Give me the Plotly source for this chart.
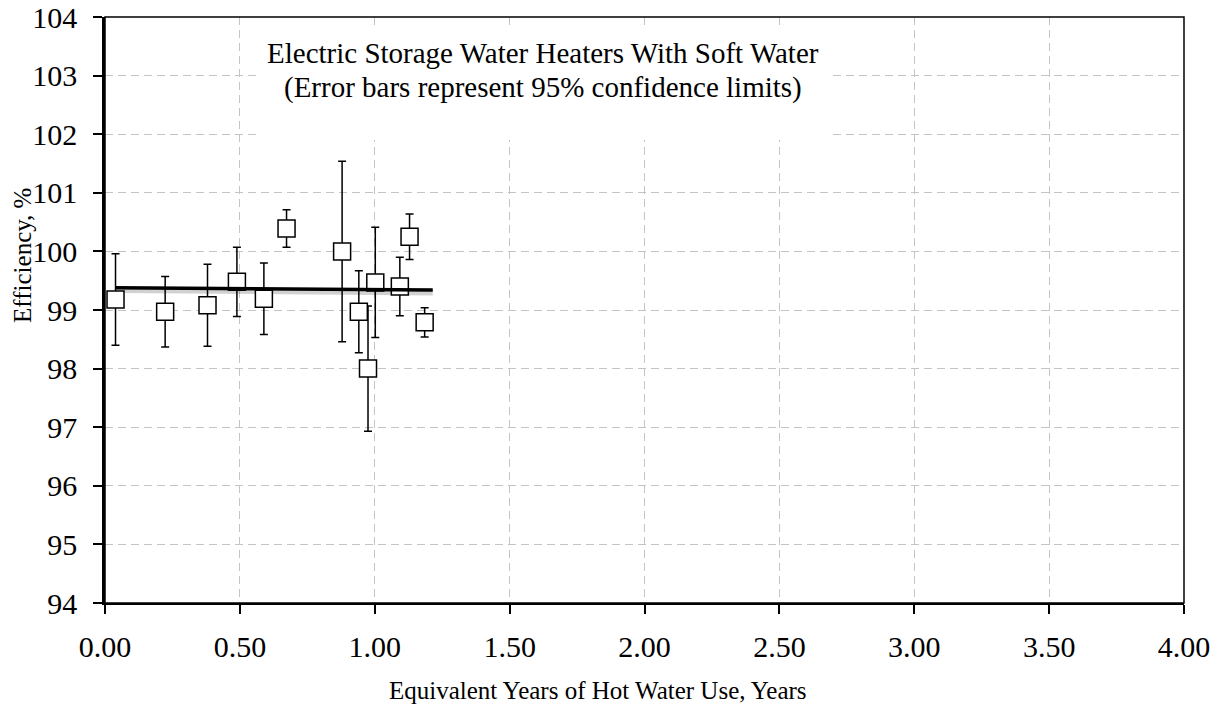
import plotly.graph_objects as go

# ---- data ----
years = [0.039, 0.223, 0.380, 0.489, 0.589, 0.673, 0.879, 0.941, 0.975, 1.002, 1.093, 1.129, 1.185]
efficiency = [99.18, 98.97, 99.08, 99.48, 99.19, 100.39, 100.00, 98.97, 98.00, 99.47, 99.40, 100.25, 98.79]
ci95 = [0.78, 0.60, 0.70, 0.59, 0.61, 0.32, 1.54, 0.70, 1.07, 0.94, 0.50, 0.39, 0.25]

fit_x = [0.04, 1.215]
fit_y = [99.38, 99.34]

x_ticks = [0.0, 0.5, 1.0, 1.5, 2.0, 2.5, 3.0, 3.5, 4.0]
x_tick_labels = ["0.00", "0.50", "1.00", "1.50", "2.00", "2.50", "3.00", "3.50", "4.00"]
y_ticks = [94, 95, 96, 97, 98, 99, 100, 101, 102, 103, 104]

title_lines = ["Electric Storage Water Heaters With Soft Water",
               "(Error bars represent 95% confidence limits)"]

FONT = "Liberation Serif, Times New Roman, serif"

fig = go.Figure()

# shadow of fit line
fig.add_trace(go.Scatter(
    x=fit_x, y=[v - 0.04 for v in fit_y], mode="lines",
    line=dict(color="rgba(0,0,0,0.18)", width=6),
    hoverinfo="skip", showlegend=False))

fig.add_trace(go.Scatter(
    x=years, y=efficiency, mode="markers",
    marker=dict(symbol="square", size=17, color="white",
                line=dict(color="black", width=1.5)),
    error_y=dict(type="data", array=ci95, visible=True,
                 color="black", thickness=1.5, width=4),
    showlegend=False))

fig.add_trace(go.Scatter(
    x=fit_x, y=fit_y, mode="lines",
    line=dict(color="black", width=3.5),
    showlegend=False))

grid = dict(showgrid=True, gridcolor="#c4c4c4", gridwidth=1, griddash="8px,5px")

fig.update_xaxes(range=[0, 4], tickvals=x_ticks, ticktext=x_tick_labels,
                 showline=True, linecolor="black", linewidth=2,
                 ticks="outside", ticklen=9, tickwidth=1.5, tickcolor="black",
                 ticklabelstandoff=7, ticklabeloverflow="allow",
                 tickfont=dict(family=FONT, size=30, color="black"),
                 automargin=False, zeroline=False, **grid)
fig.update_yaxes(range=[94, 104], tickvals=y_ticks,
                 showline=True, linecolor="black", linewidth=2.5,
                 ticks="outside", ticklen=9, tickwidth=1.5, tickcolor="black",
                 ticklabelstandoff=10, ticklabeloverflow="allow",
                 tickfont=dict(family=FONT, size=30, color="black"),
                 automargin=False, zeroline=False, **grid)

# white box behind the title text (covers gridlines)
fig.add_shape(type="rect", xref="x", yref="y", x0=0.564, x1=2.698, y0=101.9, y1=103.81,
              fillcolor="white", line=dict(width=0), layer="between")
# plot border (top and right)
fig.add_shape(type="rect", xref="paper", yref="paper", x0=0, x1=1, y0=0, y1=1,
              line=dict(color="black", width=1.5), layer="above")

fig.add_annotation(text=title_lines[0], xref="paper", yref="paper", x=0.406, y=0.939,
                   showarrow=False, xanchor="center", yanchor="middle",
                   font=dict(family=FONT, size=29, color="black"))
fig.add_annotation(text=title_lines[1], xref="paper", yref="paper", x=0.406, y=0.879,
                   showarrow=False, xanchor="center", yanchor="middle",
                   font=dict(family=FONT, size=29, color="black"))

fig.add_annotation(text="Equivalent Years of Hot Water Use, Years", xref="paper", yref="paper",
                   x=0.457, y=-0.150, showarrow=False, xanchor="center", yanchor="middle",
                   font=dict(family=FONT, size=25, color="black"))
fig.add_annotation(text="Efficiency, %", xref="paper", yref="paper",
                   x=-0.076, y=0.594, showarrow=False, xanchor="center", yanchor="middle",
                   textangle=-90,
                   font=dict(family=FONT, size=25, color="black"))

fig.update_layout(width=1221, height=708,
                  margin=dict(l=105, r=37, t=17, b=105),
                  paper_bgcolor="white", plot_bgcolor="white",
                  showlegend=False)

# remove the page's default body margin so the figure fills the window exactly
fig.write_html("out.html",
               config={"displayModeBar": False},
               post_script="document.body.style.margin='0';document.body.style.overflow='hidden';")
